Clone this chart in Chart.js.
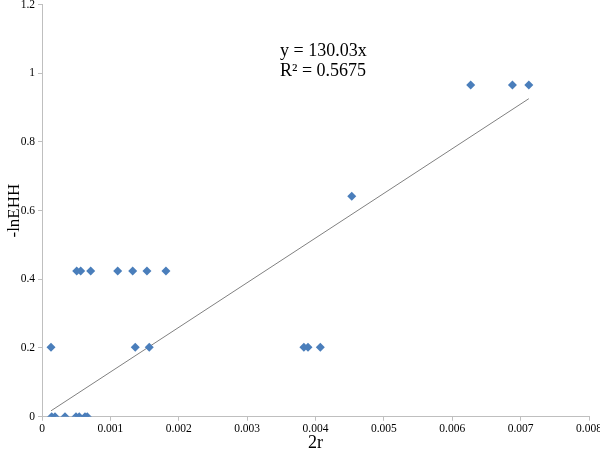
<!DOCTYPE html>
<html>
<head>
<meta charset="utf-8">
<script src="https://cdn.jsdelivr.net/npm/chart.js@4/dist/chart.umd.min.js"></script>
<style>
  html, body { margin: 0; padding: 0; background: #fff; }
  #wrap { width: 600px; height: 454px; }
</style>
</head>
<body>
<div id="wrap"><canvas id="ehhChart"></canvas></div>
<script>
// 2r values and -lnEHH values
const xValues = [
    0.000142, 0.00019, 0.000336, 0.000497, 0.000545, 0.000629, 0.000662,
    0.000132, 0.001364, 0.001569, 0.00383, 0.00389, 0.00407,
    0.000507, 0.000566, 0.000712, 0.001107, 0.001326, 0.001535, 0.001813,
    0.00453,
    0.00627, 0.00688, 0.00712
];
const yValues = [
    0, 0, 0, 0, 0, 0, 0,
    0.202, 0.202, 0.202, 0.202, 0.202, 0.202,
    0.424, 0.424, 0.424, 0.424, 0.424, 0.424, 0.424,
    0.642,
    0.966, 0.966, 0.966
];
const slope = 130.03;
const equationLines = ['y = 130.03x', 'R\u00b2 = 0.5675'];
const xTickLabels = ['0', '0.001', '0.002', '0.003', '0.004', '0.005', '0.006', '0.007', '0.008'];
const yTickLabels = ['0', '0.2', '0.4', '0.6', '0.8', '1', '1.2'];

const points = xValues.map((x, i) => ({ x: x, y: yValues[i] }));
const minX = Math.min(...xValues);
const maxX = Math.max(...xValues);
const trendPoints = [{ x: minX, y: slope * minX }, { x: maxX, y: slope * maxX }];

const serif = 'Liberation Serif';
const axisGray = '#bfbfbf';

// equation label in the upper middle of the plot
const equationPlugin = {
    id: 'equation',
    afterDraw(chart) {
        const ctx = chart.ctx;
        ctx.save();
        ctx.font = '18px "' + serif + '"';
        ctx.fillStyle = '#000';
        ctx.textBaseline = 'alphabetic';
        ctx.textAlign = 'left';
        ctx.fillText(equationLines[0], 280, 56);
        ctx.fillText(equationLines[1], 280, 76);
        ctx.restore();
    }
};

const ctx = document.getElementById('ehhChart').getContext('2d');
new Chart(ctx, {
    type: 'scatter',
    data: {
        datasets: [{
            label: '-lnEHH',
            data: points,
            pointStyle: 'rectRot',
            pointRadius: 4.5,
            pointBorderWidth: 0,
            backgroundColor: '#4a7ebb',
            borderColor: '#4a7ebb',
            order: 1
        }, {
            type: 'line',
            label: 'trend',
            data: trendPoints,
            borderColor: '#808080',
            borderWidth: 1,
            pointRadius: 0,
            fill: false,
            order: 2
        }]
    },
    options: {
        responsive: true,
        maintainAspectRatio: false,
        animation: false,
        layout: { padding: { top: 4.5, right: 11, left: 0, bottom: 0 } },
        plugins: {
            legend: { display: false },
            tooltip: { enabled: false }
        },
        scales: {
            x: {
                type: 'linear',
                min: 0,
                max: 0.008,
                afterFit: (scale) => {
                    scale.height = 37.3;
                    scale.paddingLeft = 0;
                    scale.paddingRight = 0;
                },
                afterBuildTicks: (scale) => {
                    scale.ticks = xTickLabels.map(t => ({ value: parseFloat(t) }));
                },
                ticks: {
                    callback: (value, index) => xTickLabels[index],
                    font: { family: serif, size: 11.5 },
                    color: '#000',
                    padding: 1,
                    maxRotation: 0,
                    autoSkip: false
                },
                grid: { display: true, drawOnChartArea: false, drawTicks: true, tickLength: 4, color: axisGray },
                border: { display: true, color: axisGray },
                title: {
                    display: true,
                    text: '2r',
                    font: { family: serif, size: 18 },
                    color: '#000',
                    padding: { top: 0, bottom: 0 }
                }
            },
            y: {
                type: 'linear',
                min: 0,
                max: 1.2,
                afterFit: (scale) => {
                    scale.width = 42;
                    scale.paddingTop = 0;
                    scale.paddingBottom = 0;
                },
                afterBuildTicks: (scale) => {
                    scale.ticks = yTickLabels.map(t => ({ value: parseFloat(t) }));
                },
                ticks: {
                    callback: (value, index) => yTickLabels[index],
                    font: { family: serif, size: 11.5 },
                    color: '#000',
                    padding: 3
                },
                grid: { display: true, drawOnChartArea: false, drawTicks: true, tickLength: 4, color: axisGray },
                border: { display: true, color: axisGray },
                title: {
                    display: true,
                    text: '-lnEHH',
                    font: { family: serif, size: 17 },
                    color: '#000',
                    padding: { top: 4, bottom: 0 }
                }
            }
        }
    },
    plugins: [equationPlugin]
});
</script>
</body>
</html>
